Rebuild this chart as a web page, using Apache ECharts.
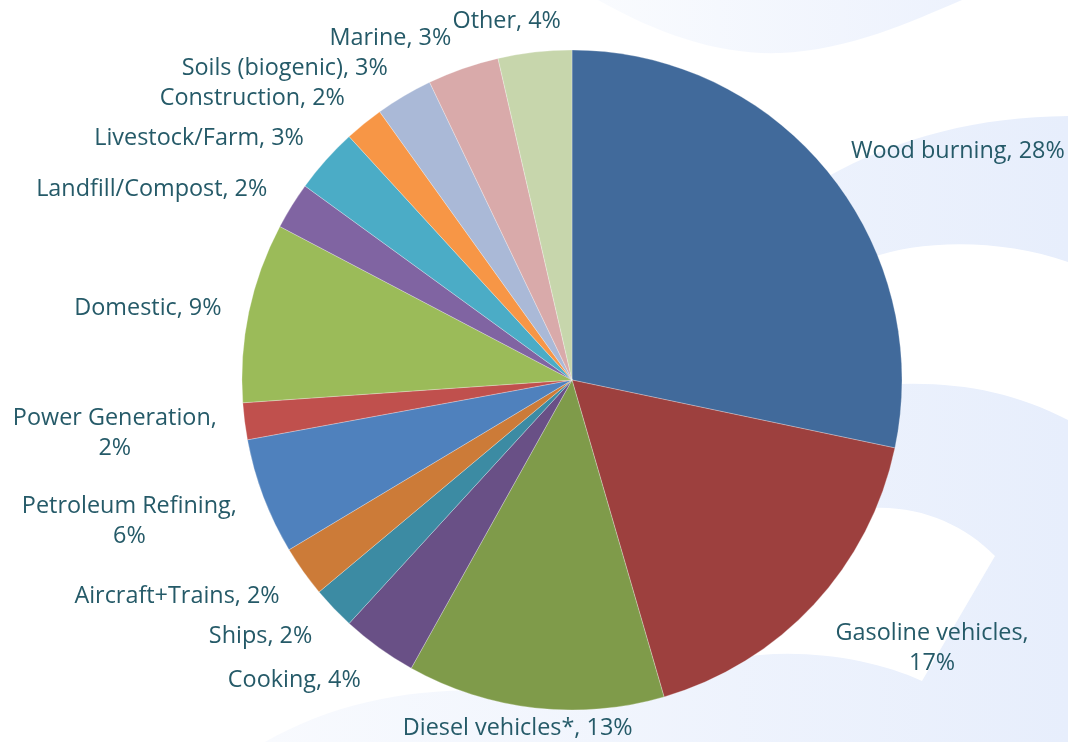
<!DOCTYPE html>
<html><head><meta charset="utf-8">
<script src="https://cdn.jsdelivr.net/npm/echarts@6/dist/echarts.min.js"></script>
<style>html,body{margin:0;padding:0;background:#fff}#c{width:1068px;height:742px}</style>
</head><body><div id="c"></div>
<script>
// ---- data ----
const categories = ['Wood burning','Gasoline vehicles','Diesel vehicles*','Cooking','Ships','Aircraft+Trains','Petroleum Refining','Power Generation','Domestic','Landfill/Compost','Livestock/Farm','Construction','Soils (biogenic)','Marine','Other'];
const shares = [28.3,17.2,12.6,3.7,2.1,2.5,5.7,1.8,8.8,2.3,3.2,1.9,2.8,3.5,3.6];
const shownPercents = ['28%','17%','13%','4%','2%','2%','6%','2%','9%','2%','3%','2%','3%','3%','4%'];
const breakLabel = [false,true,false,false,false,false,true,true,false,false,false,false,false,false,false];
const colors = ['#416a9b','#9d403e','#7f9b4a','#695086','#3c8ba3','#cc7b38','#4f81bd','#c0504d','#9bbb59','#8064a2','#4bacc6','#f79646','#aab9d7','#d9aaaa','#c7d6ac'];

// ---- layout ----
const W = 1068, H = 742, CX = 572, CY = 380, R = 330, GAP = 24;
const total = shares.reduce((a, b) => a + b, 0);

function placeLabel(p) {
  const i = p.dataIndex;
  let before = 0;
  for (let k = 0; k < i; k++) before += shares[k];
  const mid = (before + shares[i] / 2) / total * 2 * Math.PI;
  const dx = Math.sin(mid), dy = -Math.cos(mid);
  const px = CX + (R + GAP) * dx + (dx < 0 ? -4 : 4);
  const py = CY + (R + GAP) * dy;
  const w = p.labelRect.width, h = p.labelRect.height;
  const kx = dy > 0.95 ? 0.8 : 3.5;
  const ox = Math.max(-1, Math.min(1, dx * kx));
  let offY;
  if (dy >= 0) offY = dy * (h / 2) * (h > 40 ? 1.1 : 0.66);
  else offY = Math.max(-0.8 * h / 2, dy * 1.13 * h / 2);
  let x = px + ox * w / 2, y = py + offY + 5;
  x = Math.max(w / 2 + 2, Math.min(W - w / 2 - 1, x));
  y = Math.max(h / 2, Math.min(H - h / 2 + 1, y));
  return { x: x, y: y, align: 'center', verticalAlign: 'middle' };
}

const lightGrad = (a, b) => ({ type: 'linear', x: 0, y: 0, x2: 1, y2: 0, colorStops: [{ offset: 0, color: a }, { offset: 1, color: b }] });

// decorative background swooshes
const decoShapes = [
  { d: 'M 598 0 C 660 35 720 55 780 53 C 850 50 910 22 962 0 Z', fill: lightGrad('#f9fbfe', '#edf2fd') },
  { d: 'M 825 178 C 900 136 980 117 1068 116 L 1068 742 L 265 742 C 330 705 400 690 480 690 L 572 380 Z', fill: lightGrad('#f8fafe', '#e7eefc') },
  { d: 'M 870 258 C 920 240 1000 238 1068 262 L 1068 420 C 1010 390 950 380 880 385 Z', fill: '#ffffff' },
  { d: 'M 870 508 C 920 505 965 525 995 556 L 922 681 C 880 662 820 650 760 655 C 700 660 660 680 620 700 L 700 550 Z', fill: '#ffffff' }
];

const chart = echarts.init(document.getElementById('c'), null, { renderer: 'canvas' });
chart.setOption({
  backgroundColor: '#ffffff',
  animation: false,
  series: [{
    type: 'custom',
    coordinateSystem: 'none',
    silent: true,
    z: 0,
    data: [0],
    renderItem: function () {
      return {
        type: 'group',
        children: decoShapes.map(s => ({ type: 'path', shape: { pathData: s.d }, style: { fill: s.fill } }))
      };
    }
  }, {
    type: 'pie',
    z: 5,
    center: [CX, CY],
    radius: R,
    startAngle: 90,
    clockwise: true,
    avoidLabelOverlap: false,
    itemStyle: { borderColor: 'rgba(255,255,255,0.45)', borderWidth: 0.6 },
    label: {
      show: true,
      position: 'outside',
      fontFamily: 'Open Sans',
      fontSize: 23.4,
      lineHeight: 30,
      color: '#255a68',
      formatter: p => categories[p.dataIndex] + ',' + (breakLabel[p.dataIndex] ? '\n' : ' ') + shownPercents[p.dataIndex]
    },
    labelLine: { show: false },
    labelLayout: placeLabel,
    emphasis: { disabled: true },
    data: categories.map((c, i) => ({ name: c, value: shares[i], itemStyle: { color: colors[i] } }))
  }]
});
</script>
</body></html>
